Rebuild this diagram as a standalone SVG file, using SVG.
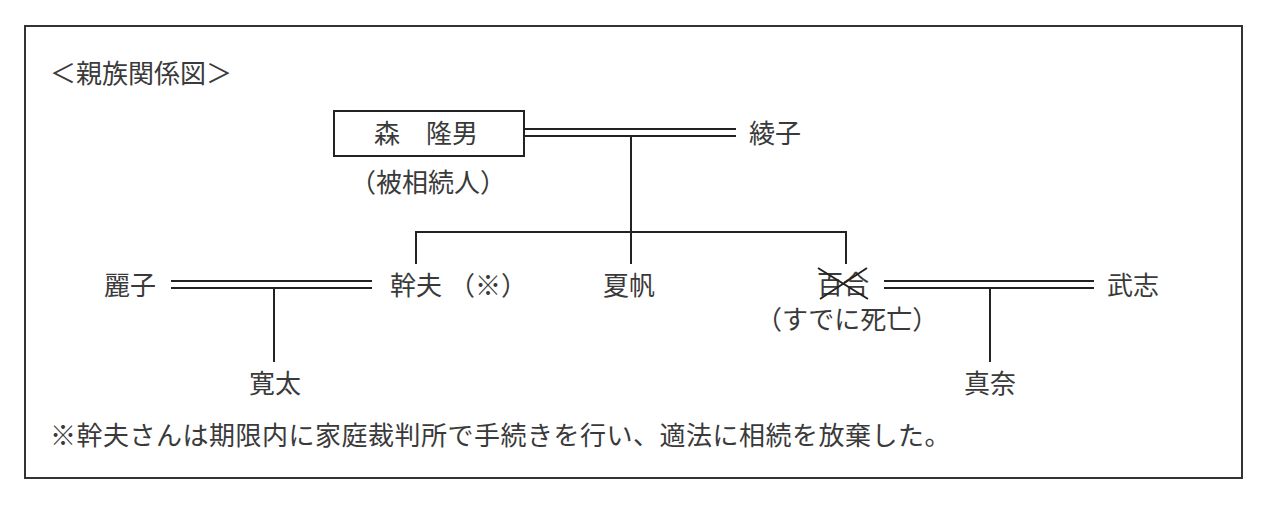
<svg xmlns="http://www.w3.org/2000/svg" width="1284" height="510" viewBox="0 0 1284 510">
<style>
text{font-family:"Noto Sans CJK JP","Noto Sans CJK SC",sans-serif;font-size:26px;fill:#3a3a3a;}
.ln{stroke:#222;stroke-width:2;fill:none;}
.frame{stroke:#333;stroke-width:2;fill:#fff;}
</style>
<rect x="0" y="0" width="1284" height="510" fill="#fff"/>
<rect class="frame" x="25" y="26" width="1217" height="452"/>
<g id="title"><text x="50" y="83">＜親族関係図＞</text></g>
<g id="connectors">
<path class="ln" d="M524 129H736M524 136H736"/>
<path class="ln" d="M631 136V232M416 232H846M416 231V264M631 232V264M846 231V264"/>
<path class="ln" d="M171 281H372M171 288H372M274 288V362"/>
<path class="ln" d="M884 281H1094M884 288H1094M990 288V362"/>
</g>
<g id="mori">
<rect class="ln" x="334" y="111" width="190" height="45"/>
<text x="374" y="143">森　隆男</text>
<text x="350" y="192">（被相続人）</text>
</g>
<g id="ayako"><text x="749" y="143">綾子</text></g>
<g id="reiko"><text x="104" y="295">麗子</text></g>
<g id="mikio"><text x="390" y="295">幹夫<tspan x="449">（※）</tspan></text></g>
<g id="kaho"><text x="603" y="295">夏帆</text></g>
<g id="yuri">
<text x="817" y="294">百合</text>
<path class="ln" d="M818 268L868 299M820 299L867 268" stroke-width="1.6"/>
<text x="756" y="329">（すでに死亡）</text>
</g>
<g id="takeshi"><text x="1107" y="295">武志</text></g>
<g id="kanta"><text x="249" y="393">寛太</text></g>
<g id="mana"><text x="964" y="393">真奈</text></g>
<g id="note"><text x="50" y="445" letter-spacing="0.5">※幹夫さんは期限内に家庭裁判所で手続きを行い、適法に相続を放棄した。</text></g>
</svg>
